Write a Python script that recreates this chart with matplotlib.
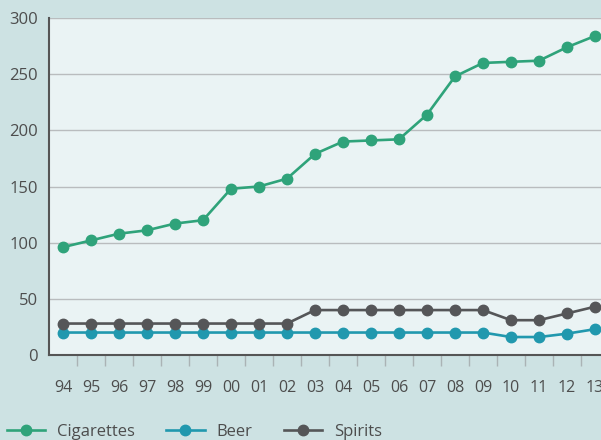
import matplotlib.pyplot as plt
import numpy as np

years = ['94', '95', '96', '97', '98', '99', '00', '01', '02', '03',
         '04', '05', '06', '07', '08', '09', '10', '11', '12', '13']
cigarettes = [96, 102, 108, 111, 117, 120, 148, 150, 157, 179,
              190, 191, 192, 214, 248, 260, 261, 262, 274, 284]
beer = [20, 20, 20, 20, 20, 20, 20, 20, 20, 20,
        20, 20, 20, 20, 20, 20, 16, 16, 19, 23]
spirits = [28, 28, 28, 28, 28, 28, 28, 28, 28, 40,
           40, 40, 40, 40, 40, 40, 31, 31, 37, 43]

plt.rcParams['font.family'] = ['Open Sans', 'DejaVu Sans']

fig = plt.figure(figsize=(6.01, 4.40), dpi=100, facecolor='#cde2e3')
# axes runs past the right edge like in the original
ax = fig.add_axes([49/601, 85/440, 560/601, 337/440])
ax.set_facecolor('#eaf3f4')

x = np.arange(len(years))
ax.plot(x, cigarettes, '-o', color='#2fa37a', lw=1.9, ms=7.5, label='Cigarettes', zorder=3)
ax.plot(x, beer, '-o', color='#2198ae', lw=1.9, ms=7.5, label='Beer', zorder=3)
ax.plot(x, spirits, '-o', color='#555658', lw=1.9, ms=7.5, label='Spirits', zorder=3)

ax.set_xlim(-0.5, len(years) - 0.5)
ax.set_ylim(0, 300)
ax.set_yticks(range(0, 301, 50))
ax.yaxis.grid(True, color='#b9bcbe', lw=1.0)
ax.set_axisbelow(True)

ax.set_xticks(x)
ax.set_xticklabels(years)
ax.set_xticks(x[:-1] + 0.5, minor=True)
ax.tick_params(axis='x', which='major', length=0, pad=18, labelsize=11.5, labelcolor='#4d4d4d')
ax.tick_params(axis='x', which='minor', length=8, width=1, color='#aab3b5', direction='out')
ax.tick_params(axis='y', length=0, pad=8, labelsize=12, labelcolor='#4d4d4d')

for s in ['top', 'right']:
    ax.spines[s].set_visible(False)
ax.spines['left'].set_color('#555555')
ax.spines['left'].set_linewidth(1.5)
ax.spines['bottom'].set_color('#555555')
ax.spines['bottom'].set_linewidth(1.5)

fig.legend(loc='center left', bbox_to_anchor=(0.0, 8/440), ncol=3, frameon=False,
           fontsize=12, labelcolor='#4d4d4d', handlelength=2.3, handletextpad=0.7,
           columnspacing=1.9, borderaxespad=0)

fig.savefig('out.png', dpi=100, facecolor=fig.get_facecolor())
